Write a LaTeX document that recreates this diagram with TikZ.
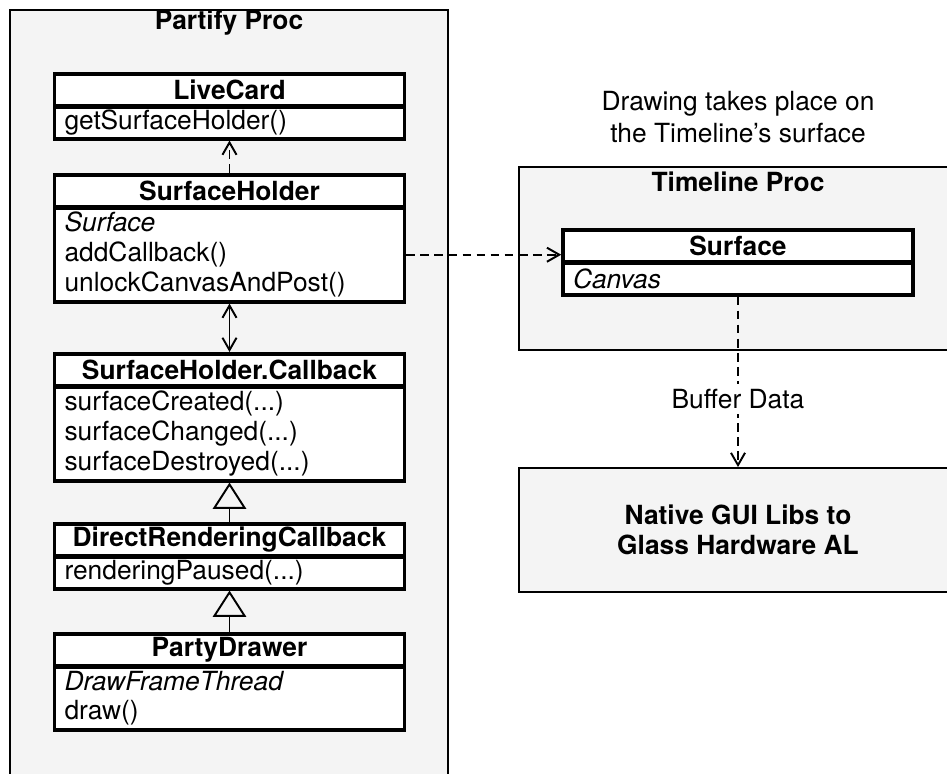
\documentclass[tikz,border=0pt]{standalone}
\usepackage{fontspec}
\setmainfont{TeX Gyre Heros}
\usetikzlibrary{arrows.meta,positioning}
\definecolor{procgray}{RGB}{244,244,244}

\begin{document}
\begin{tikzpicture}[
    x=0.02cm, y=-0.02cm,
    font=\fontsize{15}{17}\selectfont,
    proc/.style={draw, line width=1.1pt, fill=procgray, minimum width=8.76cm},
    head/.style={draw, line width=2.1pt, fill=white, minimum width=7cm, minimum height=0.64cm, inner sep=0pt, anchor=north, font=\fontsize{15}{17}\selectfont\bfseries},
    body/.style={draw, line width=2.1pt, fill=white, text width=6.6cm, inner xsep=0.2cm, inner ysep=0pt, align=left},
    dep/.style={line width=1.1pt, dash pattern=on 5pt off 3pt, -{Straight Barb[length=7pt,width=8pt]}},
    inherit/.style={line width=1.1pt, -{Triangle[open, length=15pt, width=19pt]}},
]
\clip (0,0) rectangle (947,774);

% Process frames
\node[proc, minimum height=15.8cm, anchor=north] (partify) at (229,9) {};
\node[proc, minimum height=3.66cm] (timeline) at (738,258.5) {};
\node[font=\fontsize{15}{17}\selectfont\bfseries] (partifytitle) at (229,23) {Partify Proc};
\node[font=\fontsize{15}{17}\selectfont\bfseries] (timelinetitle) at (738,182) {Timeline Proc};

% Partify classes
\node[head] (livecard) at (229.5,72) {LiveCard};
\node[body, minimum height=0.64cm, below=-1.6pt of livecard] (livecardbody) {getSurfaceHolder()};

\node[head] (holder) at (229.5,173) {SurfaceHolder};
\node[body, minimum height=1.88cm, below=-1.6pt of holder] (holderbody) {\textit{Surface}\\addCallback()\\unlockCanvasAndPost()};

\node[head] (callback) at (229.5,352) {SurfaceHolder.Callback};
\node[body, minimum height=1.88cm, below=-1.6pt of callback] (callbackbody) {surfaceCreated(...)\\surfaceChanged(...)\\surfaceDestroyed(...)};

\node[head] (direct) at (229.5,522) {DirectRenderingCallback};
\node[body, minimum height=0.64cm, below=-1.6pt of direct] (directbody) {renderingPaused(...)};

\node[head] (drawer) at (229.5,632) {PartyDrawer};
\node[body, minimum height=1.26cm, below=-1.6pt of drawer] (drawerbody) {\textit{DrawFrameThread}\\draw()};

% Timeline side
\node[align=center, font=\fontsize{15}{18}\selectfont] (note) at (738,117) {Drawing takes place on\\the Timeline's surface};
\node[head] (surface) at (738,228) {Surface};
\node[body, minimum height=0.64cm, below=-1.6pt of surface] (surfacebody) {\textit{Canvas}};

\node[proc, minimum height=2.48cm, align=center, font=\fontsize{15}{17}\selectfont\bfseries] (native) at (738,530) {Native GUI Libs to\\Glass Hardware AL};

% Connectors
\draw[dep] (holder) -- (livecardbody);
\draw[line width=1.1pt, {Straight Barb[length=7pt,width=8pt]}-{Straight Barb[length=7pt,width=8pt]}] (holderbody) -- (callback);
\draw[inherit] (direct) -- (callbackbody);
\draw[inherit] (drawer) -- (directbody);
\draw[dep] (holderbody.east) -- (holderbody.east -| surface.west);
\draw[dep] (surfacebody) -- node[pos=0.6, fill=white, inner sep=3pt] (bufferlabel) {Buffer Data} (native);
\end{tikzpicture}
\end{document}
